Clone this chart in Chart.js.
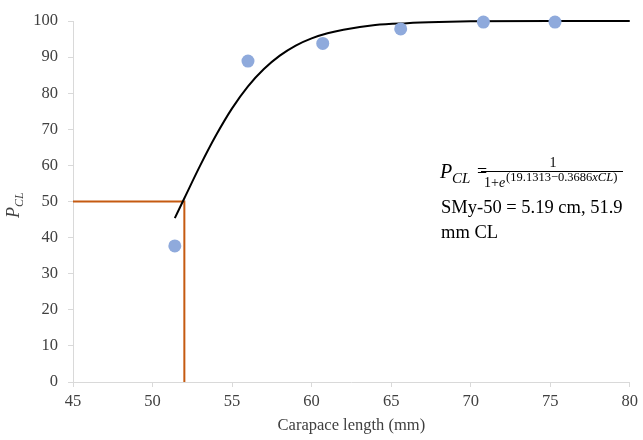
<!DOCTYPE html>
<html>
<head>
<meta charset="utf-8">
<script src="https://cdn.jsdelivr.net/npm/chart.js@4/dist/chart.umd.min.js"></script>
<style>
  html, body { margin: 0; padding: 0; background: #fff; }
  #wrap { width: 643px; height: 440px; }
</style>
</head>
<body>
<div id="wrap"><canvas id="chart"></canvas></div>
<script>
const obsX = [51.4, 56.0, 60.7, 65.6, 70.8, 75.3];
const obsY = [37.7, 88.9, 93.8, 97.8, 99.7, 99.7];

// fitted logistic curve, read at several lengths
const curveX = [51.4, 52, 53, 54, 55, 56, 57, 58, 59, 60, 61, 62, 64, 66, 68, 70, 75, 80];
const curveY = [45.4, 50.9, 60.0, 68.4, 75.8, 81.9, 86.7, 90.4, 93.2, 95.2, 96.6, 97.6, 98.9, 99.4, 99.7, 99.9, 100, 100];

// SMy-50 guide lines
const guideX = [45, 52, 52];
const guideY = [50, 50, 0];

const xTicks = [45, 50, 55, 60, 65, 70, 75, 80];
const yTicks = [0, 10, 20, 30, 40, 50, 60, 70, 80, 90, 100];

const SERIF = '"Liberation Serif", "Times New Roman", serif';
const TXT = '#404040';
const AXIS = '#d9d9d9';

function pts(xs, ys) {
    return xs.map((x, i) => ({ x: x, y: ys[i] }));
}

// y title with subscript and the equation block
const notes = {
    id: 'notes',
    afterDraw(chart) {
        const ctx = chart.ctx;
        ctx.save();
        ctx.fillStyle = '#000';
        ctx.textBaseline = 'alphabetic';
        ctx.textAlign = 'left';

        // rotated axis title P_CL
        ctx.save();
        ctx.translate(19, 218);
        ctx.rotate(-Math.PI / 2);
        ctx.fillStyle = TXT;
        ctx.font = 'italic 18px ' + SERIF;
        ctx.fillText('P', 0, 0);
        ctx.font = 'italic 12px ' + SERIF;
        ctx.fillText('CL', 11, 4);
        ctx.restore();

        // equation
        ctx.font = 'italic 20px ' + SERIF;
        ctx.fillText('P', 440, 178);
        ctx.font = 'italic 15px ' + SERIF;
        ctx.fillText('CL', 452, 183);
        ctx.font = '18px ' + SERIF;
        ctx.fillText('=', 477, 177);
        ctx.font = '14px ' + SERIF;
        ctx.textAlign = 'center';
        ctx.fillText('1', 553, 167);
        ctx.textAlign = 'left';
        ctx.fillRect(481, 171, 142, 1);
        ctx.fillText('1+', 484, 187);
        let x = 484 + ctx.measureText('1+').width;
        ctx.font = 'italic 14px ' + SERIF;
        ctx.fillText('e', x, 187);
        x += ctx.measureText('e').width + 1;
        const parts = [['(19.1313\u22120.3686', ''], ['xCL', 'italic '], [')', '']];
        // size the exponent so it ends where the picture's does
        let w = 0;
        parts.forEach(p => { ctx.font = p[1] + '10px ' + SERIF; w += ctx.measureText(p[0]).width; });
        const size = Math.min(12.5, 10 * (621 - x) / w);
        parts.forEach(p => {
            ctx.font = p[1] + size + 'px ' + SERIF;
            ctx.fillText(p[0], x, 181);
            x += ctx.measureText(p[0]).width;
        });

        ctx.font = '18.5px ' + SERIF;
        ctx.fillText('SMy-50 = 5.19 cm, 51.9', 441, 213);
        ctx.fillText('mm CL', 441, 238);
        ctx.restore();
    }
};

new Chart(document.getElementById('chart'), {
    type: 'scatter',
    data: {
        datasets: [
            {
                data: pts(obsX, obsY),
                backgroundColor: '#8faadc',
                borderColor: '#8faadc',
                pointRadius: 6.5,
                pointBorderWidth: 0,
                clip: false,
                order: 1
            },
            {
                data: pts(guideX, guideY),
                showLine: true,
                borderColor: '#c55a11',
                borderWidth: 2,
                pointRadius: 0,
                tension: 0,
                clip: false,
                order: 3
            },
            {
                data: pts(curveX, curveY),
                showLine: true,
                borderColor: '#000',
                borderWidth: 2,
                pointRadius: 0,
                cubicInterpolationMode: 'monotone',
                clip: false,
                order: 2
            }
        ]
    },
    options: {
        responsive: true,
        maintainAspectRatio: false,
        animation: false,
        layout: { padding: { top: 21, right: 11, left: 0, bottom: 0 } },
        plugins: {
            legend: { display: false },
            tooltip: { enabled: false }
        },
        scales: {
            x: {
                type: 'linear',
                min: 45,
                max: 80,
                afterFit: s => { s.height = 58; },
                afterBuildTicks: s => { s.ticks = xTicks.map(v => ({ value: v })); },
                border: { color: AXIS, width: 1 },
                grid: { drawOnChartArea: false, drawTicks: true, tickLength: 5, color: AXIS },
                ticks: { color: TXT, font: { family: SERIF, size: 16.5 }, padding: 5, maxRotation: 0 },
                title: {
                    display: true,
                    text: 'Carapace length (mm)',
                    color: TXT,
                    font: { family: SERIF, size: 16.5 },
                    padding: { top: 0, bottom: 4 }
                }
            },
            y: {
                min: 0,
                max: 100,
                afterFit: s => { s.width = 73; },
                afterBuildTicks: s => { s.ticks = yTicks.map(v => ({ value: v })); },
                border: { color: AXIS, width: 1 },
                grid: { drawOnChartArea: false, drawTicks: true, tickLength: 5, color: AXIS },
                ticks: { color: TXT, font: { family: SERIF, size: 16.5 }, padding: 10 }
            }
        }
    },
    plugins: [notes]
});
</script>
</body>
</html>
